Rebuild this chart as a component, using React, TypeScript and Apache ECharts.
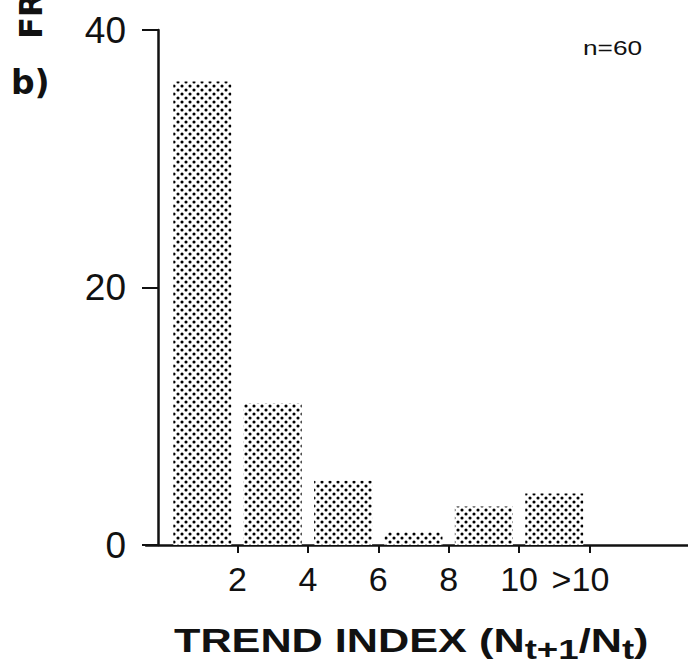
import React, { useEffect, useRef } from "react";
import * as echarts from "echarts";

// Bin edges of the trend index (N_{t+1}/N_t); last bin is ">10"
const binEdges = [0, 2, 4, 6, 8, 10, 12];
const frequencies = [36, 11, 5, 1, 3, 4];
const xTickValues = [2, 4, 6, 8, 10, 12];
const xTickLabels = ["2", "4", "6", "8", "10", ">10"];
const yTickValues = [0, 20, 40];
const sampleLabel = "n=60";
const panelLabel = "b)";
const yTitle = "FREQUENCY";

function makeDotPattern(): HTMLCanvasElement {
  const c = document.createElement("canvas");
  c.width = 8;
  c.height = 8;
  const ctx = c.getContext("2d")!;
  ctx.fillStyle = "#ffffff";
  ctx.fillRect(0, 0, 8, 8);
  ctx.fillStyle = "#000000";
  const dots = [
    [2, 2],
    [6, 6],
  ];
  for (const [x, y] of dots) {
    ctx.beginPath();
    ctx.arc(x, y, 1.55, 0, Math.PI * 2);
    ctx.fill();
  }
  return c;
}

export default function App() {
  const ref = useRef<HTMLDivElement>(null);

  useEffect(() => {
    document.body.style.margin = "0";
    if (!ref.current) return;
    const chart = echarts.init(ref.current, undefined, { renderer: "svg" });
    const pattern = makeDotPattern();

    const barData = frequencies.map((f, i) => [
      (binEdges[i] + binEdges[i + 1]) / 2,
      f,
    ]);

    const font = "Liberation Sans";

    chart.setOption({
      animation: false,
      backgroundColor: "#ffffff",
      grid: {
        left: 146,
        right: 0,
        top: 30,
        bottom: 122,
        containLabel: false,
        outerBoundsMode: "none",
      },
      xAxis: {
        type: "value",
        min: -0.6,
        max: 14.8,
        axisLine: { show: true, onZero: false, lineStyle: { color: "#111", width: 2.5 } },
        axisTick: {
          show: true,
          customValues: xTickValues,
          length: 8,
          lineStyle: { color: "#111", width: 2 },
        },
        axisLabel: {
          customValues: xTickValues,
          formatter: (v: number) => {
            const s = xTickLabels[xTickValues.indexOf(v)] ?? "";
            return s.startsWith(">") ? `{gt|${s}}` : s;
          },
          fontFamily: font,
          fontSize: 34,
          color: "#111",
          margin: 17,
          rich: {
            gt: { fontFamily: font, fontSize: 34, color: "#111", padding: [0, 18, 0, 0] },
          },
        },
        splitLine: { show: false },
      },
      yAxis: {
        type: "value",
        min: 0,
        max: 40,
        interval: 20,
        offset: -12,
        axisLine: { show: true, onZero: false, lineStyle: { color: "#111", width: 2.5 } },
        axisTick: {
          show: true,
          customValues: yTickValues,
          length: 16,
          lineStyle: { color: "#111", width: 2 },
        },
        axisLabel: {
          fontFamily: font,
          fontSize: 37,
          color: "#111",
          margin: 32,
        },
        splitLine: { show: false },
      },
      series: [
        {
          type: "bar",
          data: barData,
          barWidth: 58,
          itemStyle: {
            color: {
              image: pattern,
              repeat: "repeat",
              imageWidth: 8,
              imageHeight: 8,
            },
          },
        },
      ],
      graphic: [
        {
          type: "text",
          x: 583,
          y: 37,
          scaleX: 1.25,
          style: {
            text: sampleLabel,
            font: `21px "${font}"`,
            fill: "#111",
            textVerticalAlign: "top",
          },
        },
        {
          type: "text",
          x: 11,
          y: 66,
          style: {
            text: panelLabel,
            font: `bold 33px "DejaVu Sans"`,
            fill: "#111",
          },
        },
        {
          type: "text",
          x: 15,
          y: 39,
          rotation: Math.PI / 2,
          style: {
            text: yTitle,
            font: `bold 32px "DejaVu Sans"`,
            fill: "#111",
            textAlign: "left",
            textVerticalAlign: "top",
          },
        },
        {
          type: "text",
          x: 174,
          y: 617,
          scaleX: 1.31,
          style: {
            text: "TREND INDEX ({m|N}{s|t+1}{m|/N}{s|t}{m|)}",
            font: `bold 33px "${font}"`,
            fill: "#111",
            textVerticalAlign: "top",
            rich: {
              m: { font: `bold 33px "${font}"`, fill: "#111" },
              s: {
                font: `bold 28px "${font}"`,
                fill: "#111",
                padding: [18, 0, 0, 0],
              },
            },
          },
        },
      ],
    });

    return () => chart.dispose();
  }, []);

  return <div ref={ref} style={{ width: 688, height: 667 }} />;
}
